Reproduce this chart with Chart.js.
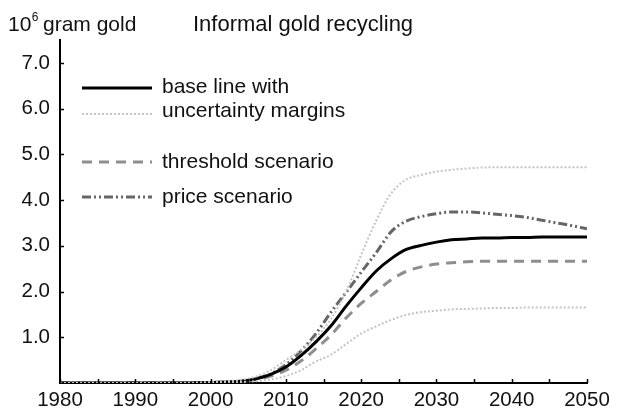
<!DOCTYPE html>
<html>
<head>
<meta charset="utf-8">
<script src="https://cdn.jsdelivr.net/npm/chart.js@4"></script>
<style>
  html, body { margin: 0; padding: 0; background: #fff; }
  #wrap { width: 622px; height: 409px; }
</style>
</head>
<body>
<div id="wrap"><canvas id="c" width="622" height="409"></canvas></div>
<script>
// Years sampled along the projection
const years = [1980, 1985, 1990, 1995, 2000, 2002, 2004, 2006, 2008, 2010,
  2012, 2014, 2016, 2018, 2020, 2022, 2024, 2026, 2028, 2030,
  2032, 2034, 2036, 2038, 2040, 2042, 2044, 2046, 2048, 2050];

// Informal gold recycling, 10^6 gram gold
const baseLine = [0, 0, 0, 0, 0.01, 0.02, 0.04, 0.09, 0.19, 0.35,
  0.6, 0.9, 1.25, 1.68, 2.08, 2.45, 2.72, 2.92, 3.01, 3.08,
  3.13, 3.15, 3.17, 3.17, 3.18, 3.18, 3.19, 3.19, 3.19, 3.19];
const upperMargin = [0, 0, 0, 0, 0.02, 0.04, 0.07, 0.14, 0.28, 0.5,
  0.72, 1.0, 1.4, 2.0, 2.8, 3.55, 4.15, 4.45, 4.55, 4.62,
  4.66, 4.69, 4.71, 4.72, 4.72, 4.72, 4.72, 4.72, 4.72, 4.72];
const lowerMargin = [0, 0, 0, 0, 0, 0.01, 0.02, 0.04, 0.08, 0.15,
  0.28, 0.47, 0.62, 0.85, 1.08, 1.24, 1.38, 1.49, 1.55, 1.58,
  1.61, 1.62, 1.63, 1.64, 1.64, 1.65, 1.65, 1.65, 1.65, 1.65];
const thresholdScenario = [0, 0, 0, 0, 0.01, 0.02, 0.04, 0.07, 0.15, 0.28,
  0.48, 0.75, 1.05, 1.42, 1.74, 2.0, 2.26, 2.44, 2.54, 2.6,
  2.63, 2.65, 2.66, 2.66, 2.66, 2.66, 2.66, 2.66, 2.66, 2.66];
const priceScenario = [0, 0, 0, 0, 0.01, 0.02, 0.04, 0.09, 0.2, 0.4,
  0.7, 1.08, 1.55, 1.98, 2.42, 2.85, 3.31, 3.54, 3.64, 3.7,
  3.74, 3.74, 3.72, 3.69, 3.66, 3.62, 3.56, 3.5, 3.44, 3.37];

// Axis ticks
const xTickYears = [1980, 1985, 1990, 1995, 2000, 2005, 2010, 2015, 2020, 2025, 2030, 2035, 2040, 2045, 2050];
const xLabelYears = [1980, 1990, 2000, 2010, 2020, 2030, 2040, 2050];
const yTickValues = [1, 2, 3, 4, 5, 6, 7];

const FONT = '"Liberation Sans", Arial, Helvetica, sans-serif';

const pts = arr => years.map((y, i) => ({ x: y, y: arr[i] }));

const legendItems = [
  { ds: 0, text: 'base line with', lineY: 88, textY: 93 },
  { ds: 1, text: 'uncertainty margins', lineY: 114, textY: 117 },
  { ds: 3, text: 'threshold scenario', lineY: 162, textY: 168 },
  { ds: 4, text: 'price scenario', lineY: 197, textY: 203 }
];

// Inward tick marks on both axes, placed through the chart scales
const innerTicks = {
  id: 'innerTicks',
  afterDatasetsDraw(chart) {
    const { ctx, chartArea, scales } = chart;
    ctx.save();
    ctx.strokeStyle = '#000';
    ctx.lineWidth = 1.5;
    ctx.beginPath();
    xTickYears.forEach(v => {
      const px = Math.round(scales.x.getPixelForValue(v)) + 0.5;
      ctx.moveTo(px, chartArea.bottom);
      ctx.lineTo(px, chartArea.bottom - 4);
    });
    yTickValues.forEach(v => {
      const py = Math.round(scales.y.getPixelForValue(v)) + 0.5;
      ctx.moveTo(chartArea.left, py);
      ctx.lineTo(chartArea.left + 4, py);
    });
    ctx.stroke();
    ctx.restore();
  }
};

// Headings and the in-plot legend
const annotations = {
  id: 'annotations',
  afterDraw(chart) {
    const { ctx } = chart;
    ctx.save();
    ctx.fillStyle = '#111';
    ctx.textBaseline = 'alphabetic';
    ctx.textAlign = 'left';
    // unit label with superscript
    ctx.font = '21px ' + FONT;
    ctx.fillText('10', 8, 31);
    let w = ctx.measureText('10').width;
    ctx.font = '12px ' + FONT;
    ctx.fillText('6', 8 + w + 0.5, 21);
    ctx.font = '21px ' + FONT;
    ctx.fillText('gram gold', 43, 31);
    // title
    ctx.font = '22px ' + FONT;
    ctx.fillText('Informal gold recycling', 193, 31);

    // legend
    legendItems.forEach(item => {
      const ds = chart.data.datasets[item.ds];
      ctx.save();
      ctx.strokeStyle = ds.borderColor;
      ctx.lineWidth = ds.borderWidth;
      ctx.setLineDash(ds.borderDash || []);
      ctx.beginPath();
      ctx.moveTo(82, item.lineY);
      ctx.lineTo(152, item.lineY);
      ctx.stroke();
      ctx.restore();
      ctx.font = '21px ' + FONT;
      ctx.fillStyle = '#111';
      ctx.fillText(item.text, 162, item.textY);
    });
    ctx.restore();
  }
};

const common = { pointRadius: 0, fill: false, cubicInterpolationMode: 'monotone' };

new Chart(document.getElementById('c'), {
  type: 'line',
  data: {
    datasets: [
      Object.assign({ label: 'base line', data: pts(baseLine), borderColor: '#000', borderWidth: 3, order: 1 }, common),
      Object.assign({ label: 'upper margin', data: pts(upperMargin), borderColor: '#c4c4c4', borderWidth: 2, borderDash: [2, 2], order: 0 }, common),
      Object.assign({ label: 'lower margin', data: pts(lowerMargin), borderColor: '#c4c4c4', borderWidth: 2, borderDash: [2, 2], order: 0 }, common),
      Object.assign({ label: 'threshold scenario', data: pts(thresholdScenario), borderColor: '#8e8e8e', borderWidth: 3, borderDash: [10, 7], order: 3 }, common),
      Object.assign({ label: 'price scenario', data: pts(priceScenario), borderColor: '#666', borderWidth: 3, borderDash: [9, 3, 2, 3, 2, 3], order: 2 }, common)
    ]
  },
  options: {
    responsive: false,
    animation: false,
    devicePixelRatio: 1,
    layout: { padding: { top: 40, right: 35, bottom: 0, left: 0 } },
    plugins: { legend: { display: false }, title: { display: false }, tooltip: { enabled: false } },
    scales: {
      x: {
        type: 'linear',
        min: 1980,
        max: 2050,
        afterBuildTicks(scale) { scale.ticks = xLabelYears.map(v => ({ value: v })); },
        afterFit(scale) { scale.height = 26; },
        ticks: {
          font: { family: FONT, size: 20.5 },
          color: '#111',
          padding: 5,
          maxRotation: 0,
          autoSkip: false,
          callback: v => String(v)
        },
        grid: { display: true, drawOnChartArea: false, drawTicks: false },
        border: { display: true, color: '#000', width: 2 }
      },
      y: {
        type: 'linear',
        min: 0,
        max: 7.5,
        afterBuildTicks(scale) { scale.ticks = yTickValues.map(v => ({ value: v })); },
        afterFit(scale) { scale.width = 60; },
        ticks: {
          font: { family: FONT, size: 20.5 },
          color: '#111',
          padding: 10,
          callback: v => Number(v).toFixed(1)
        },
        grid: { display: true, drawOnChartArea: false, drawTicks: false },
        border: { display: true, color: '#000', width: 2 }
      }
    }
  },
  plugins: [innerTicks, annotations]
});
</script>
</body>
</html>
